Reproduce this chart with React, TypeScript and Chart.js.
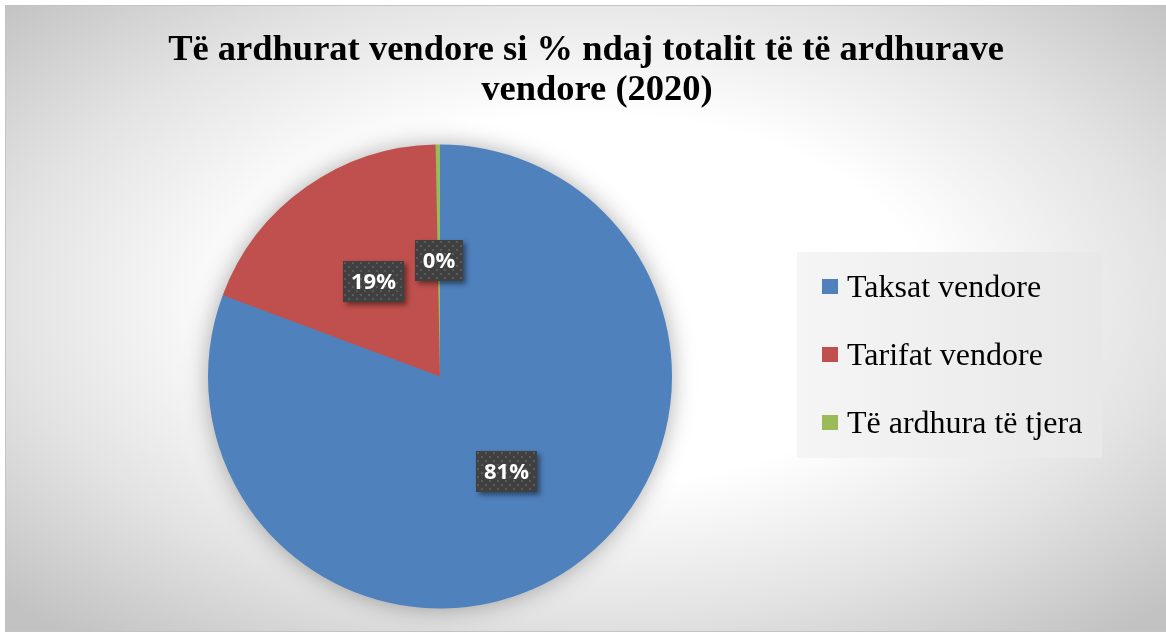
import React, { useEffect, useRef } from "react";
import { Chart, registerables } from "chart.js";

Chart.register(...registerables);

const titleLines = ["Të ardhurat vendore si % ndaj totalit të të ardhurave", "vendore (2020)"];
const categories = ["Taksat vendore", "Tarifat vendore", "Të ardhura të tjera"];
const shares = [80.7, 19.0, 0.3];
const sliceColors = ["#4F81BD", "#C0504D", "#9BBB59"];

function makeDotPattern(ctx: CanvasRenderingContext2D) {
  const c = document.createElement("canvas");
  c.width = 8;
  c.height = 8;
  const p = c.getContext("2d")!;
  p.fillStyle = "#404040";
  p.fillRect(0, 0, 8, 8);
  p.fillStyle = "#5a5a5a";
  p.fillRect(1, 1, 2, 2);
  p.fillRect(5, 5, 2, 2);
  return ctx.createPattern(c, "repeat");
}

const backgroundPlugin = {
  id: "bgFrame",
  beforeDraw(chart: any) {
    const ctx: CanvasRenderingContext2D = chart.ctx;
    const W = chart.width;
    const H = chart.height;
    ctx.save();
    ctx.fillStyle = "#ffffff";
    ctx.fillRect(0, 0, W, H);
    const cx = 590;
    const cy = 300;
    const rx = 800;
    const ry = 440;
    const s = ry / rx;
    ctx.translate(cx, cy);
    ctx.scale(1, s);
    const g = ctx.createRadialGradient(0, 0, 0, 0, 0, rx);
    g.addColorStop(0, "#ffffff");
    g.addColorStop(0.42, "#ffffff");
    g.addColorStop(0.72, "#e3e3e3");
    g.addColorStop(1, "#c2c2c2");
    ctx.fillStyle = g;
    ctx.fillRect(5 - cx, (5 - cy) / s, W - 5, 627 / s);
    ctx.restore();
    ctx.save();
    ctx.strokeStyle = "#c4c4c4";
    ctx.lineWidth = 1;
    ctx.strokeRect(5.5, 5.5, W, 626);
    ctx.restore();
  },
  beforeDatasetsDraw(chart: any) {
    const ctx: CanvasRenderingContext2D = chart.ctx;
    const arc = chart.getDatasetMeta(0).data[0];
    if (!arc) return;
    ctx.save();
    ctx.shadowColor = "rgba(0,0,0,0.35)";
    ctx.shadowBlur = 24;
    ctx.fillStyle = sliceColors[0];
    ctx.beginPath();
    ctx.arc(arc.x, arc.y, arc.outerRadius - 1, 0, Math.PI * 2);
    ctx.fill();
    ctx.restore();
  },
  afterDatasetsDraw(chart: any) {
    const ctx: CanvasRenderingContext2D = chart.ctx;
    const meta = chart.getDatasetMeta(0);
    const values: number[] = chart.data.datasets[0].data;
    const total = values.reduce((a, b) => a + b, 0);
    const pattern = makeDotPattern(ctx);
    ctx.save();
    ctx.font = '700 22px "Open Sans"';
    meta.data.forEach((arc: any, i: number) => {
      const { x, y, startAngle, endAngle, outerRadius } = arc.getProps(
        ["x", "y", "startAngle", "endAngle", "outerRadius"],
        true
      );
      const mid = (startAngle + endAngle) / 2;
      const px = x + Math.cos(mid) * outerRadius * 0.5;
      const py = y + Math.sin(mid) * outerRadius * 0.5;
      const text = Math.round((values[i] / total) * 100) + "%";
      const tw = ctx.measureText(text).width;
      const w = Math.round(tw + 16);
      const h = 41;
      const bx = Math.round(px - w / 2);
      const by = Math.round(py - h / 2);
      ctx.save();
      ctx.shadowColor = "rgba(0,0,0,0.45)";
      ctx.shadowBlur = 5;
      ctx.shadowOffsetX = 3;
      ctx.shadowOffsetY = 3;
      ctx.fillStyle = "#404040";
      ctx.fillRect(bx, by, w, h);
      ctx.restore();
      if (pattern) {
        ctx.save();
        ctx.translate(bx, by);
        ctx.fillStyle = pattern;
        ctx.fillRect(0, 0, w, h);
        ctx.restore();
      }
      ctx.fillStyle = "#ffffff";
      ctx.textAlign = "center";
      ctx.textBaseline = "middle";
      ctx.fillText(text, bx + w / 2, by + h / 2 + 1);
    });
    ctx.restore();
  },
  afterDraw(chart: any) {
    const ctx: CanvasRenderingContext2D = chart.ctx;
    // title
    ctx.save();
    ctx.fillStyle = "#000000";
    ctx.font = 'bold 36.5px "Liberation Serif"';
    ctx.textAlign = "center";
    ctx.textBaseline = "alphabetic";
    ctx.fillText(titleLines[0], 586, 60);
    ctx.fillText(titleLines[1], 597, 100);
    ctx.restore();

    // legend
    const labels: string[] = chart.data.labels;
    const colors: string[] = chart.data.datasets[0].backgroundColor;
    const lx = 797, ly = 252, lw = 305, lh = 206;
    ctx.save();
    const lg = ctx.createLinearGradient(lx, 0, lx + lw, 0);
    lg.addColorStop(0, "#f5f5f5");
    lg.addColorStop(1, "#e8e8e8");
    ctx.fillStyle = lg;
    ctx.fillRect(lx, ly, lw, lh);
    ctx.font = '32px "Liberation Serif"';
    ctx.textAlign = "left";
    ctx.textBaseline = "alphabetic";
    labels.forEach((lab, i) => {
      const base = 297 + i * 67.8;
      ctx.fillStyle = colors[i];
      ctx.fillRect(822, Math.round(base - 18), 16, 15);
      ctx.fillStyle = "#000000";
      ctx.fillText(lab, 847, base);
    });
    ctx.restore();
  },
};

export default function App() {
  const ref = useRef<HTMLCanvasElement | null>(null);
  useEffect(() => {
    document.body.style.margin = "0";
    const canvas = ref.current;
    if (!canvas) return;
    const chart = new Chart(canvas, {
      type: "pie",
      data: {
        labels: categories,
        datasets: [
          {
            data: shares,
            backgroundColor: sliceColors,
            borderWidth: 0,
            hoverOffset: 0,
            offset: 0,
          } as any,
        ],
      },
      options: {
        responsive: false,
        maintainAspectRatio: false,
        animation: false,
        devicePixelRatio: 1,
        layout: { padding: { left: 208, right: 494, top: 144.5, bottom: 24.5 } },
        plugins: {
          legend: { display: false },
          title: { display: false },
          tooltip: { enabled: false },
        },
      } as any,
      plugins: [backgroundPlugin as any],
    });
    return () => chart.destroy();
  }, []);
  return (
    <div style={{ position: "absolute", left: 0, top: 0, width: 1166, height: 633, background: "#fff" }}>
      <canvas ref={ref} width={1166} height={633} style={{ display: "block" }} />
    </div>
  );
}
